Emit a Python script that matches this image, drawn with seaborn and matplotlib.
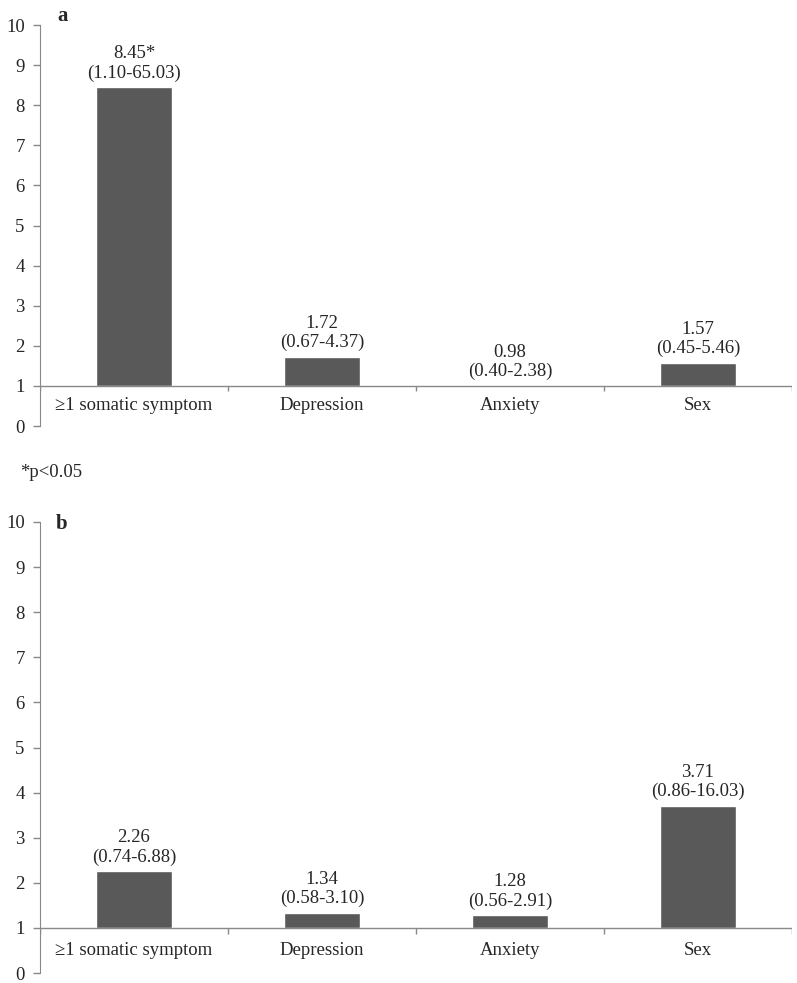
import matplotlib
matplotlib.use("Agg")
import matplotlib.pyplot as plt
import seaborn as sns
import pandas as pd

# odds ratios with 95% CI, panels a and b
categories = ["≥1 somatic symptom", "Depression", "Anxiety", "Sex"]
or_a = [8.45, 1.72, 0.98, 1.57]
ci_a = ["(1.10-65.03)", "(0.67-4.37)", "(0.40-2.38)", "(0.45-5.46)"]
sig_a = ["*", "", "", ""]
or_b = [2.26, 1.34, 1.28, 3.71]
ci_b = ["(0.74-6.88)", "(0.58-3.10)", "(0.56-2.91)", "(0.86-16.03)"]
sig_b = ["", "", "", ""]
yticks = list(range(0, 11))

sns.set_style("white")
plt.rcParams['font.family'] = ['Liberation Serif', 'DejaVu Serif']

bar_col = "#595959"
axis_col = "#898989"
fs = 13.5

fig = plt.figure(figsize=(7.97, 9.83), dpi=100)
W, H = 797, 983


def panel(top_px, bottom_px, vals, cis, sigs):
    ax = fig.add_axes([40 / W, 1 - bottom_px / H, 752 / W, (bottom_px - top_px) / H])
    df = pd.DataFrame({"cat": categories, "val": vals})
    sns.barplot(data=df, x="cat", y="val", color=bar_col, width=0.4,
                saturation=1, ax=ax)
    # bars grow from the reference line at 1
    for p, v in zip(ax.patches, vals):
        p.set_y(1)
        p.set_height(v - 1)
    ax.set_xlim(-0.5, 3.5)
    ax.set_ylim(0, 10)
    ax.set_yticks(yticks)
    ax.set_xticks([])
    ax.set_xlabel("")
    ax.set_ylabel("")
    for s in ["top", "right", "bottom"]:
        ax.spines[s].set_visible(False)
    ax.spines["left"].set_color(axis_col)
    ax.tick_params(axis="y", direction="out", length=5, width=1, color=axis_col,
                   pad=6, labelsize=fs, left=True)
    ax.axhline(1, color=axis_col, lw=1, zorder=1)
    ax.vlines([-0.5, 0.5, 1.5, 2.5, 3.5], 1 - 0.13, 1, color=axis_col, lw=1)
    for i, c in enumerate(categories):
        ax.text(i, 0.5, c, ha="center", va="center", fontsize=fs)
    for i, (v, ci, s) in enumerate(zip(vals, cis, sigs)):
        ax.annotate(f"{v:.2f}{s}\n{ci}", (i, max(v, 1)), xytext=(0, 4),
                    textcoords="offset points", ha="center", va="bottom",
                    fontsize=fs, linespacing=1.15)
    return ax


ax_a = panel(25, 426, or_a, ci_a, sig_a)
ax_b = panel(522, 973, or_b, ci_b, sig_b)

fig.text(57 / W, 1 - 21 / H, "a", fontsize=15, fontweight="bold", va="baseline")
fig.text(56 / W, 1 - 529 / H, "b", fontsize=15, fontweight="bold", va="baseline")
fig.text(20 / W, 1 - 477 / H, "*p<0.05", fontsize=fs, va="baseline")

fig.savefig("out.png", dpi=100)
